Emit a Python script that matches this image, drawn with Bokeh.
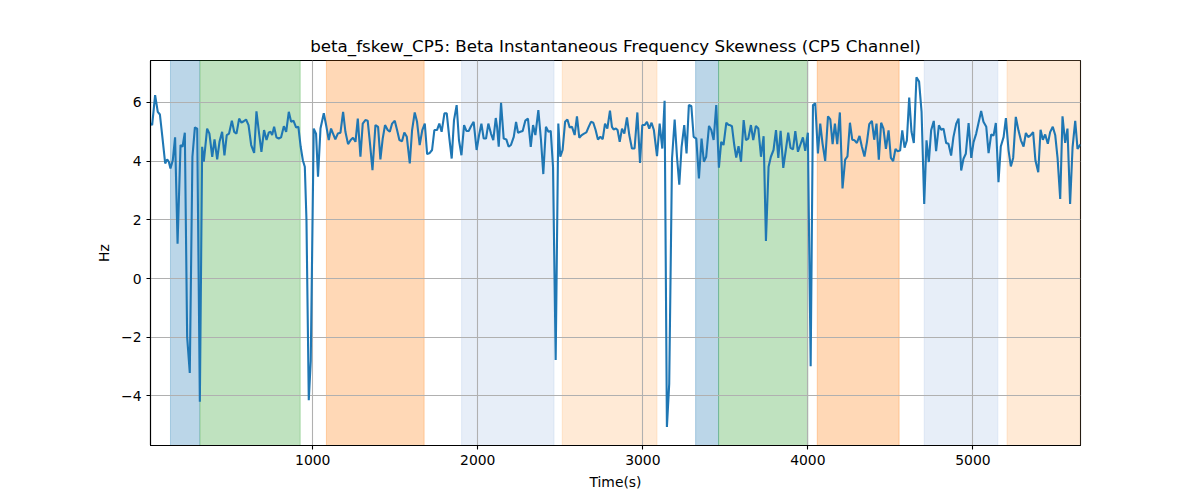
from bokeh.plotting import figure
from bokeh.models import BoxAnnotation, FixedTicker, Range1d
from bokeh.embed import file_html
from bokeh.resources import INLINE

# ---- data ----
time_s = [17, 27, 45, 61, 74, 90, 106, 118, 128, 138, 152, 166, 181, 199, 211, 225, 239, 255, 271, 286,
          300, 316, 330, 340, 360, 374, 391, 405, 421, 435, 451, 465, 479, 493, 510, 524, 538, 554, 568, 582,
          596, 611, 627, 645, 659, 675, 689, 705, 720, 734, 744, 754, 766, 780, 794, 808, 825, 839, 855, 869,
          883, 899, 913, 927, 940, 952, 962, 976, 988, 1006, 1020, 1032, 1047, 1067, 1083, 1097, 1111, 1123, 1137, 1152,
          1168, 1184, 1198, 1214, 1230, 1244, 1259, 1273, 1289, 1303, 1319, 1333, 1347, 1362, 1380, 1396, 1410, 1424, 1438, 1454,
          1467, 1481, 1497, 1511, 1525, 1541, 1555, 1570, 1588, 1602, 1618, 1632, 1648, 1664, 1679, 1693, 1709, 1723, 1737, 1753,
          1767, 1781, 1798, 1812, 1828, 1842, 1856, 1872, 1886, 1901, 1917, 1931, 1945, 1959, 1975, 1993, 2008, 2022, 2036, 2050,
          2064, 2080, 2094, 2109, 2117, 2127, 2141, 2157, 2173, 2187, 2201, 2218, 2232, 2244, 2258, 2272, 2288, 2304, 2321, 2335,
          2349, 2367, 2383, 2397, 2413, 2428, 2442, 2456, 2472, 2488, 2500, 2514, 2529, 2543, 2557, 2571, 2587, 2601, 2615, 2630,
          2644, 2658, 2672, 2686, 2700, 2714, 2728, 2743, 2757, 2771, 2785, 2801, 2813, 2823, 2837, 2847, 2860, 2874, 2888, 2904,
          2918, 2934, 2950, 2967, 2983, 2997, 3011, 3025, 3039, 3053, 3067, 3086, 3102, 3118, 3132, 3146, 3160, 3177, 3193, 3207,
          3221, 3235, 3251, 3265, 3279, 3294, 3308, 3324, 3340, 3356, 3370, 3384, 3401, 3415, 3429, 3445, 3461, 3475, 3489, 3506,
          3520, 3528, 3540, 3554, 3566, 3580, 3595, 3611, 3625, 3639, 3655, 3669, 3685, 3700, 3716, 3732, 3746, 3762, 3776, 3792,
          3807, 3821, 3835, 3851, 3865, 3881, 3895, 3910, 3924, 3940, 3954, 3970, 3984, 4000, 4017, 4031, 4045, 4061, 4075, 4089,
          4105, 4122, 4136, 4150, 4164, 4178, 4194, 4210, 4226, 4240, 4255, 4269, 4283, 4297, 4313, 4327, 4343, 4358, 4372, 4388,
          4402, 4416, 4430, 4444, 4458, 4473, 4489, 4503, 4517, 4531, 4543, 4559, 4572, 4586, 4600, 4614, 4628, 4642, 4658, 4674,
          4689, 4705, 4719, 4733, 4747, 4763, 4777, 4794, 4808, 4822, 4838, 4852, 4868, 4882, 4899, 4913, 4929, 4943, 4957, 4974,
          4990, 5004, 5020, 5034, 5050, 5064, 5081, 5095, 5111, 5125, 5139, 5155, 5169, 5186, 5200, 5216, 5230, 5244, 5260, 5276,
          5291, 5307, 5321, 5335, 5349, 5365, 5379, 5396, 5410, 5424, 5438, 5454, 5468, 5484, 5499, 5513, 5529, 5543, 5559, 5573,
          5589, 5604, 5620, 5634, 5652]
skew_hz = [5.28, 5.23, 6.25, 5.68, 5.59, 4.77, 3.92, 4.06, 3.98, 3.75, 4.03, 4.81, 1.19, 4.55, 4.49, 4.97, -1.99, -3.22, 4.15, 5.15,
           5.11, -4.2, 4.49, 3.98, 5.11, 4.94, 4.15, 4.74, 4.06, 4.66, 5.0, 4.2, 4.89, 4.94, 5.38, 5.0, 4.94, 5.45, 5.31, 5.36,
           5.42, 5.23, 4.55, 4.28, 5.70, 4.94, 4.32, 5.06, 4.72, 4.98, 5.0, 4.89, 5.17, 4.81, 4.77, 4.81, 5.19, 5.0, 5.68, 5.34,
           5.38, 5.15, 5.17, 4.49, 4.03, 3.81, 2.0, -4.15, -2.8, 5.11, 4.94, 3.47, 5.11, 5.63, 5.17, 4.72, 5.11, 4.94, 4.74, 4.94,
           4.97, 5.68, 5.0, 4.58, 4.72, 4.8, 4.66, 5.45, 4.15, 5.28, 5.4, 5.38, 4.6, 3.69, 5.23, 5.17, 4.06, 4.77, 5.23, 5.06,
           5.0, 5.28, 5.38, 5.06, 4.72, 4.68, 4.98, 4.83, 3.92, 5.06, 5.66, 5.34, 4.55, 5.06, 5.28, 4.24, 4.28, 4.38, 5.06, 5.06,
           5.28, 5.0, 5.63, 5.63, 4.77, 4.09, 5.4, 5.91, 4.72, 4.2, 5.23, 5.03, 5.03, 5.19, 5.34, 4.38, 4.89, 5.28, 4.77, 4.77,
           5.28, 4.94, 4.72, 5.47, 5.17, 4.49, 5.99, 4.77, 4.74, 4.49, 4.55, 4.83, 5.34, 4.97, 5.0, 5.03, 5.38, 5.45, 4.49, 5.23,
           4.89, 5.74, 4.72, 3.56, 5.17, 5.0, 5.03, 3.8, -2.78, 5.28, 4.15, 4.38, 5.34, 5.42, 5.15, 5.17, 4.89, 5.53, 4.8, 4.89,
           4.94, 4.98, 5.17, 5.34, 5.31, 5.06, 4.74, 4.83, 4.75, 5.28, 5.11, 5.72, 5.17, 5.08, 5.11, 5.06, 4.66, 5.11, 4.94, 5.49,
           4.89, 4.43, 4.43, 5.66, 3.94, 5.23, 5.23, 5.34, 5.11, 5.31, 5.06, 4.17, 5.28, 4.43, 6.06, -5.06, -3.58, 4.09, 5.42, 4.15,
           3.2, 4.49, 5.23, 4.26, 5.91, 5.88, 4.83, 4.77, 3.41, 4.77, 3.98, 4.15, 5.2, 5.06, 4.72, 5.91, 3.78, 4.66, 4.55, 5.31,
           5.23, 5.23, 5.19, 4.55, 4.12, 4.51, 3.98, 5.4, 4.72, 4.77, 5.23, 4.72, 5.2, 5.11, 4.15, 4.85, 1.28, 3.81, 4.15, 4.38,
           5.06, 4.11, 5.03, 3.77, 4.32, 4.97, 4.45, 4.4, 5.02, 4.32, 4.55, 4.81, 4.35, 4.97, -2.99, 5.91, 5.97, 4.26, 5.28, 4.6,
           4.01, 5.53, 5.42, 4.58, 5.28, 4.58, 5.66, 3.07, 4.05, 4.16, 5.31, 4.73, 4.71, 4.62, 4.86, 4.5, 4.16, 4.65, 5.26, 5.37,
           4.73, 5.28, 4.05, 5.31, 5.11, 4.42, 5.05, 4.11, 4.0, 4.42, 4.34, 4.36, 5.05, 4.46, 4.71, 6.17, 5.0, 4.62, 6.86, 6.71,
           5.68, 2.54, 4.71, 3.97, 5.05, 5.37, 4.34, 5.22, 5.07, 5.11, 4.62, 4.59, 4.19, 4.82, 5.28, 5.45, 3.68, 4.08, 4.25, 5.3,
           4.11, 4.65, 4.94, 5.3, 5.71, 5.34, 5.17, 4.27, 4.91, 4.87, 5.3, 3.28, 4.5, 4.82, 5.47, 4.37, 3.82, 4.11, 5.51, 5.05,
           4.71, 4.5, 4.96, 4.82, 4.88, 4.99, 4.02, 3.62, 5.07, 4.73, 4.91, 4.59, 4.99, 5.17, 4.88, 4.11, 2.71, 5.53, 4.62, 5.11,
           2.54, 4.48, 5.37, 4.42, 4.57]

# shaded intervals
span_start = [138, 317, 1083, 1902, 2512, 3320, 3459, 4057, 4705, 5207]
span_end = [314, 924, 1675, 2462, 3086, 3459, 4000, 4553, 5151, 5660]
span_color = ["#1f77b4", "#2ca02c", "#ff7f0e", "#aec7e8", "#ffbb78",
              "#1f77b4", "#2ca02c", "#ff7f0e", "#aec7e8", "#ffbb78"]

x_ticks = [1000, 2000, 3000, 4000, 5000]
y_ticks = [-4, -2, 0, 2, 4, 6]

FONT = "DejaVu Sans"

p = figure(width=1192, height=492, output_backend="svg", toolbar_location=None,
           x_range=Range1d(17, 5652), y_range=Range1d(-5.69, 7.43),
           min_border_left=150, min_border_right=112, min_border_top=60, min_border_bottom=47,
           title="beta_fskew_CP5: Beta Instantaneous Frequency Skewness (CP5 Channel)")

p.title.align = "center"
p.title.text_font = FONT
p.title.text_font_size = "16.7px"
p.title.text_font_style = "normal"
p.title.text_color = "black"

boxes = []
for s, e, c in zip(span_start, span_end, span_color):
    boxes.append(BoxAnnotation(left=s, right=e, fill_color=c, fill_alpha=0.3,
                               line_color=c, line_alpha=0.3, line_width=1, level="underlay"))
p.center = boxes + list(p.center)

p.line(time_s, skew_hz, line_color="#1f77b4", line_width=2.1)

p.xaxis.ticker = FixedTicker(ticks=x_ticks)
p.yaxis.ticker = FixedTicker(ticks=y_ticks)
p.yaxis.major_label_overrides = {t: (str(t).replace("-", "\u2212")) for t in y_ticks}
p.xaxis.axis_label = "Time(s)"
p.yaxis.axis_label = "Hz"

for ax in (p.xaxis[0], p.yaxis[0]):
    ax.axis_label_text_font = FONT
    ax.axis_label_text_font_size = "13.9px"
    ax.axis_label_text_font_style = "normal"
    ax.axis_label_text_color = "black"
    ax.axis_label_standoff = 6
    ax.major_label_text_font = FONT
    ax.major_label_text_font_size = "13.9px"
    ax.major_label_text_color = "black"
    ax.major_label_standoff = 5
    ax.major_tick_in = 0
    ax.major_tick_out = 4
    ax.major_tick_line_color = "black"
    ax.major_tick_line_width = 1.1
    ax.minor_tick_line_color = None
    ax.axis_line_color = "black"
    ax.axis_line_width = 1.1

p.xgrid.grid_line_color = "#b0b0b0"
p.ygrid.grid_line_color = "#b0b0b0"
p.xgrid.grid_line_width = 1.1
p.ygrid.grid_line_width = 1.1

p.outline_line_color = "black"
p.outline_line_width = 1.1
p.outline_line_alpha = 1
p.background_fill_color = "white"
p.border_fill_color = "white"

open("out.html", "w").write(file_html(p, INLINE))
